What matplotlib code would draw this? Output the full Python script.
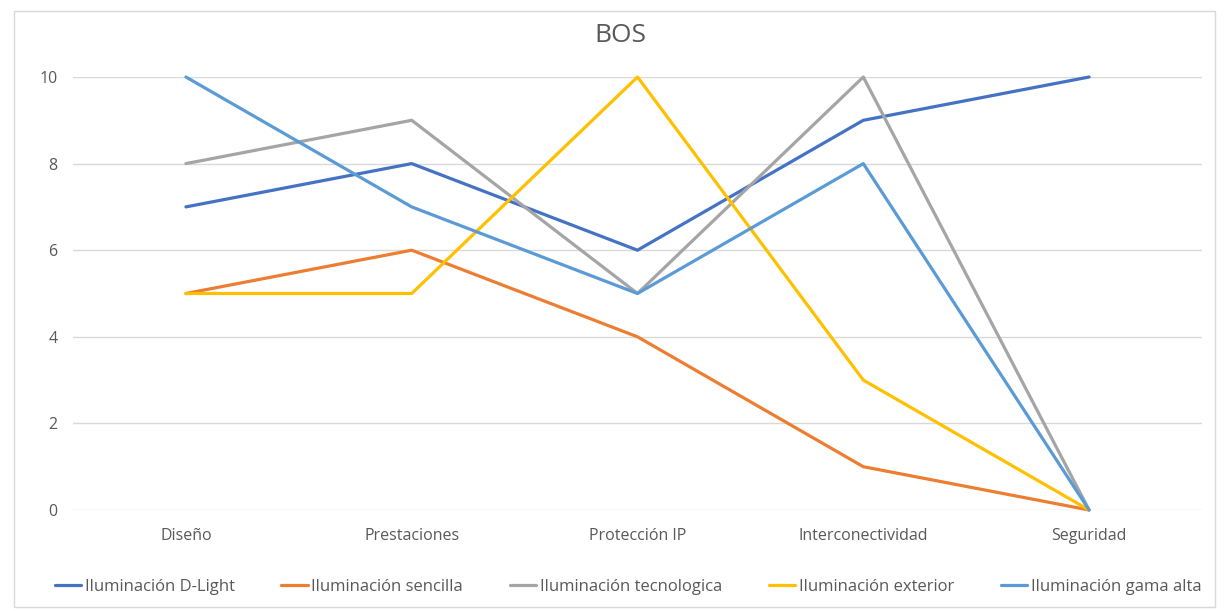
import matplotlib.pyplot as plt
from matplotlib.patches import Rectangle

# datos
categorias = ["Diseño", "Prestaciones", "Protección IP", "Interconectividad", "Seguridad"]
series = ["Iluminación D-Light", "Iluminación sencilla", "Iluminación tecnologica",
          "Iluminación exterior", "Iluminación gama alta"]
d_light = [7, 8, 6, 9, 10]
sencilla = [5, 6, 4, 1, 0]
tecnologica = [8, 9, 5, 10, 0]
exterior = [5, 5, 10, 3, 0]
gama_alta = [10, 7, 5, 8, 0]
colores = ["#4472C4", "#ED7D31", "#A5A5A5", "#FFC000", "#5B9BD5"]

plt.rcParams['font.family'] = ['Open Sans', 'DejaVu Sans']
gris = "#595959"

fig = plt.figure(figsize=(12.27, 6.11), dpi=100)
ax = fig.add_axes([73/1227, 101/611, 1129/1227, 433/611])

x = list(range(len(categorias)))
for vals, nombre, c in zip([d_light, sencilla, tecnologica, exterior, gama_alta], series, colores):
    ax.plot(x, vals, color=c, lw=2.3, label=nombre, clip_on=False, solid_capstyle='round', zorder=3)

ax.set_xlim(-0.5, 4.5)
ax.set_ylim(0, 10)
ax.set_yticks([0, 2, 4, 6, 8, 10])
ax.set_xticks(x)
ax.set_xticklabels(categorias)
ax.grid(axis='y', color="#D9D9D9", lw=1)
ax.set_axisbelow(True)
for s in ax.spines.values():
    s.set_visible(False)
ax.tick_params(length=0, labelsize=11.5, colors=gris)
ax.tick_params(axis='y', pad=11)
ax.tick_params(axis='x', pad=13)

fig.text(620/1227, 1 - 36/611, "BOS", ha='center', va='center', fontsize=19, color=gris)

ax.legend(loc='center', bbox_to_anchor=(628/1227, 1 - 587/611), bbox_transform=fig.transFigure,
          ncol=5, frameon=False, fontsize=12, handlelength=1.6, handletextpad=0.2,
          columnspacing=2.8, labelcolor=gris)

fig.patches.append(Rectangle((14/1227, 1 - 607/611), 1201/1227, 596/611, transform=fig.transFigure,
                             fill=False, edgecolor="#D9D9D9", lw=1))

fig.savefig("out.png", dpi=100)
